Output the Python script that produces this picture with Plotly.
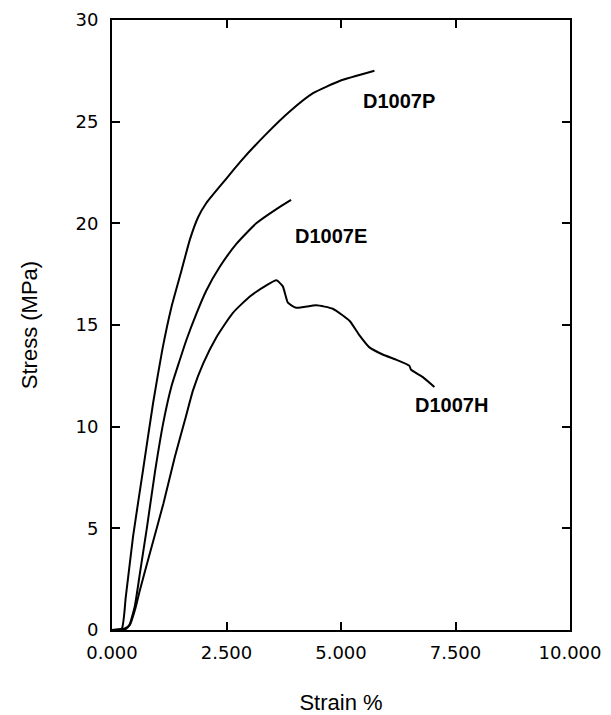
import plotly.graph_objects as go

# D1007P
p_strain = [0.0, 0.21, 0.30, 0.46, 0.68, 0.90, 1.10, 1.30, 1.52, 1.70, 1.88, 2.06, 2.46, 2.79, 3.37, 3.88, 4.39, 4.97, 5.73]
p_stress = [0.0, 0.05, 1.6, 4.6, 7.9, 11.2, 13.8, 15.9, 17.7, 19.2, 20.3, 21.0, 22.1, 23.0, 24.4, 25.5, 26.4, 27.0, 27.5]

# D1007E
e_strain = [0.0, 0.30, 0.38, 0.50, 0.61, 0.76, 0.94, 1.12, 1.30, 1.44, 1.63, 1.85, 2.06, 2.35, 2.72, 3.15, 3.59, 3.91]
e_stress = [0.0, 0.05, 0.25, 1.2, 2.8, 5.0, 7.8, 10.2, 12.0, 13.0, 14.3, 15.6, 16.7, 17.85, 19.0, 20.0, 20.7, 21.15]

# D1007H
h_strain = [0.0, 0.28, 0.39, 0.50, 0.61, 0.83, 1.12, 1.37, 1.59, 1.77, 1.99, 2.28, 2.64, 3.01, 3.37, 3.59, 3.73, 3.84, 4.02, 4.46, 4.82, 5.19, 5.40, 5.62, 5.91, 6.20, 6.49, 6.53, 6.78, 7.04]
h_stress = [0.0, 0.08, 0.25, 0.98, 1.97, 3.8, 6.2, 8.5, 10.3, 11.8, 13.1, 14.4, 15.6, 16.4, 16.95, 17.2, 16.9, 16.1, 15.85, 15.97, 15.8, 15.2, 14.5, 13.9, 13.55, 13.3, 13.0, 12.8, 12.45, 11.95]

labels = ["D1007P", "D1007E", "D1007H"]
label_x = [6.27, 4.79, 7.41]
label_y = [26.0, 19.4, 11.05]

x_ticks = [0, 2.5, 5, 7.5, 10]
y_ticks = [0, 5, 10, 15, 20, 25, 30]

fig = go.Figure()
for xs, ys in [(p_strain, p_stress), (e_strain, e_stress), (h_strain, h_stress)]:
    fig.add_trace(go.Scatter(x=xs, y=ys, mode="lines", line=dict(color="black", width=2, shape="spline", smoothing=0.5),
                             showlegend=False, hoverinfo="skip"))

for t, lx, ly in zip(labels, label_x, label_y):
    fig.add_annotation(x=lx, y=ly, text="<b>%s</b>" % t, showarrow=False,
                       font=dict(family="Liberation Sans", size=20, color="black"))

axis_common = dict(showgrid=False, zeroline=False, showline=True, linecolor="black", linewidth=2,
                   mirror="ticks", ticks="inside", ticklen=8, tickwidth=1.5, tickcolor="black",
                   automargin=False,
                   tickfont=dict(family="DejaVu Sans", size=18, color="black"))

fig.update_layout(
    width=611, height=715,
    margin=dict(l=112, r=41, t=20, b=85),
    paper_bgcolor="white", plot_bgcolor="white",
    xaxis=dict(range=[0, 10], tickvals=x_ticks, tickformat=".3f",
               title=dict(text="Strain %", font=dict(family="Liberation Sans", size=22, color="black"), standoff=38),
               ticklabelstandoff=5, **axis_common),
    yaxis=dict(range=[0, 30], tickvals=y_ticks,
               title=dict(text="Stress (MPa)", font=dict(family="Liberation Sans", size=22, color="black"), standoff=32),
               ticklabelstandoff=8, **axis_common),
)

fig.write_html("out.html", config={"displayModeBar": False},
               post_script="document.body.style.margin='0';document.body.style.padding='0';")
